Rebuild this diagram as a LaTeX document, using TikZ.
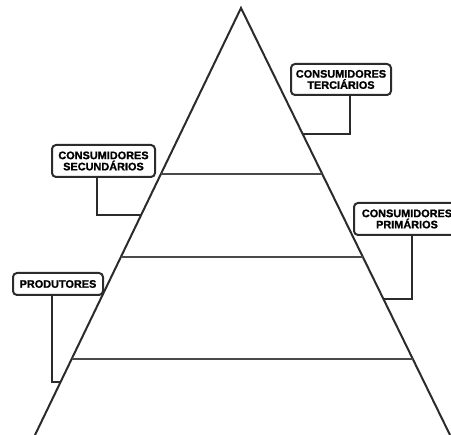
\documentclass[tikz,border=0pt]{standalone}
\usepackage{fontspec}
\setmainfont{Liberation Sans}[BoldFeatures={FakeBold=1.2}]
\usetikzlibrary{calc}
\definecolor{ink}{HTML}{2B2B2B}
\definecolor{band}{HTML}{4A4A4A}
\begin{document}
\begin{tikzpicture}[x=1pt,y=-1pt,
  side/.style={draw=ink,line width=2pt,line join=miter},
  level/.style={draw=band,line width=1.5pt},
  tag/.style={draw=ink,line width=2pt,rounded corners=4pt,fill=white,
    align=center,inner sep=0pt,font=\fontsize{10.9}{11.2}\selectfont\bfseries},
  lead/.style={draw=ink,line width=1.5pt}]
\useasboundingbox (0,0) rectangle (451,435);
% pyramid outline
\coordinate (apex) at (241,8);
\coordinate (bl) at (35,435);
\coordinate (br) at (450,435);
\draw[side] (bl) -- (apex) -- (br);
% trophic level dividers
\draw[level] ($(apex)!0.3888!(bl)$) -- ($(apex)!0.3888!(br)$);
\draw[level] ($(apex)!0.5831!(bl)$) -- ($(apex)!0.5831!(br)$);
\draw[level] ($(apex)!0.8220!(bl)$) -- ($(apex)!0.8220!(br)$);
% labels
\node[tag,minimum width=100pt,minimum height=31pt] (ter) at (341,79.5) {CONSUMIDORES\\TERCIÁRIOS};
\node[tag,minimum width=103pt,minimum height=32pt] (sec) at (103.5,161) {CONSUMIDORES\\SECUNDÁRIOS};
\node[tag,minimum width=106pt,minimum height=32pt] (pri) at (407,219) {CONSUMIDORES\\PRIMÁRIOS};
\node[tag,minimum width=90pt,minimum height=22pt] (pro) at (58,284) {PRODUTORES};
% anchor points on the sides
\coordinate (pter) at ($(apex)!0.2951!(br)$);
\coordinate (psec) at ($(apex)!0.4848!(bl)$);
\coordinate (ppri) at ($(apex)!0.6815!(br)$);
\coordinate (ppro) at ($(apex)!0.8759!(bl)$);
\coordinate (xter) at (350,0);
\coordinate (xsec) at (97,0);
\coordinate (xpri) at (412,0);
\coordinate (xpro) at (52,0);
% leaders
\draw[lead] (ter.south -| xter) |- (pter);
\draw[lead] (sec.south -| xsec) |- (psec);
\draw[lead] (pri.south -| xpri) |- (ppri);
\draw[lead] (pro.south -| xpro) |- (ppro);
\end{tikzpicture}
\end{document}
